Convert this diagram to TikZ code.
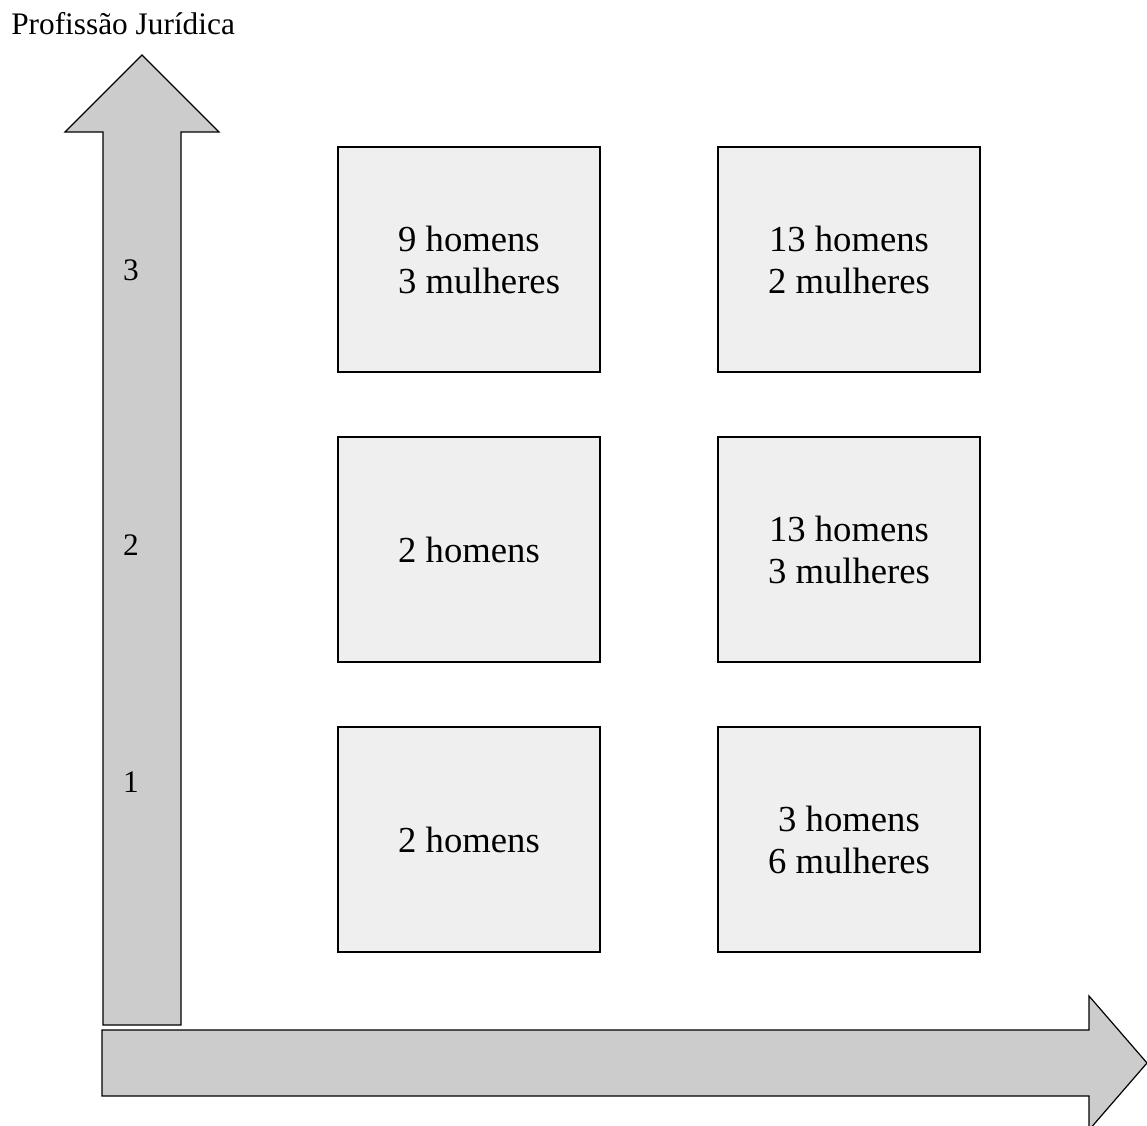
\documentclass[tikz,border=0pt]{standalone}
\usepackage{fontspec}
\setmainfont{Liberation Serif}
\begin{document}
\begin{tikzpicture}[x=0.75pt,y=-0.75pt,
  cell/.style={draw=black,line width=0.9pt,fill={rgb,255:red,239;green,239;blue,239},
    minimum width=196.5pt,minimum height=168.75pt,inner sep=0pt,align=center,
    font=\fontsize{27.5pt}{31.5pt}\selectfont},
  axisarrow/.style={draw=black,line width=0.9pt,fill={rgb,255:red,204;green,204;blue,204},line join=miter},
  tick/.style={font=\fontsize{23.5pt}{28pt}\selectfont,inner sep=0pt}]
\useasboundingbox (0,0) rectangle (1147,1126);
% vertical arrow
\draw[axisarrow] (103,1025) -- (103,132) -- (65,132) -- (142,55) -- (219,132) -- (181,132) -- (181,1025) -- cycle;
% horizontal arrow
\draw[axisarrow] (102,1030) -- (1089,1030) -- (1089,996) -- (1147,1063) -- (1089,1130) -- (1089,1096) -- (102,1096) -- cycle;
% title
\node[anchor=base west,inner sep=0pt,font=\fontsize{23.5pt}{28pt}\selectfont] (title) at (11,35) {Profissão Jurídica};
% ticks
\node[tick] (t3) at (131,270) {3};
\node[tick] (t2) at (131,545) {2};
\node[tick] (t1) at (131,782) {1};
% cells
\node[cell] (a3) at (469,259.5) {9 homens\\\hspace*{0.55em}3 mulheres};
\node[cell] (b3) at (849,259.5) {13 homens\\2 mulheres};
\node[cell] (a2) at (469,549.5) {2 homens};
\node[cell] (b2) at (849,549.5) {13 homens\\3 mulheres};
\node[cell] (a1) at (469,839.5) {2 homens};
\node[cell] (b1) at (849,839.5) {3 homens\\6 mulheres};
\end{tikzpicture}
\end{document}
